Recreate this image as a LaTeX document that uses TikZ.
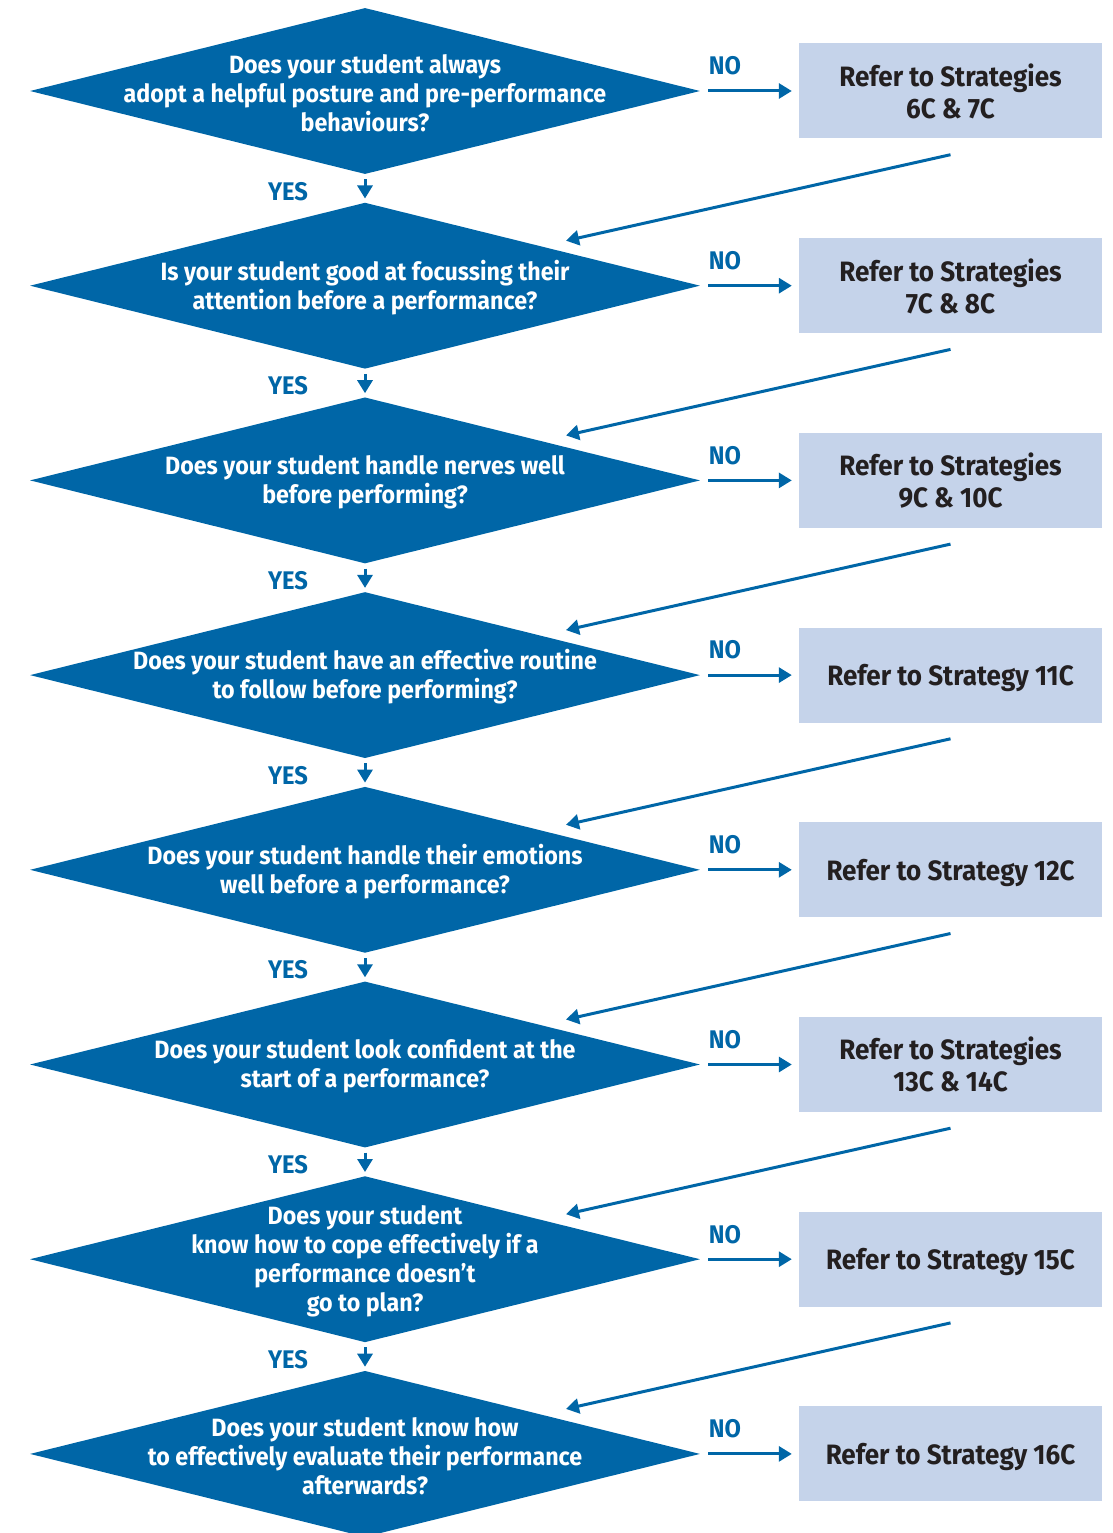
\documentclass[tikz,border=0pt]{standalone}
\usepackage{fontspec}
\setmainfont{Fira Sans}[FakeStretch=0.93]
\usetikzlibrary{shapes.geometric,arrows.meta,calc}
\definecolor{dblue}{RGB}{0,102,167}
\definecolor{lblue}{RGB}{197,211,234}
\definecolor{ink}{RGB}{35,31,32}
\begin{document}
\begin{tikzpicture}[x=1pt,y=-1pt,
 dia/.style={diamond, fill=dblue, minimum width=670pt, minimum height=166pt, inner sep=0pt},
 qtext/.style={text=white, font=\bfseries\fontsize{25}{29}\selectfont, align=center, inner sep=0pt, yshift=-2pt},
 box/.style={fill=lblue, minimum width=303pt, minimum height=95pt, text=ink, font=\bfseries\fontsize{28}{32}\selectfont, align=center, text depth=0pt},
 lab/.style={text=dblue, font=\bfseries\fontsize{25.5}{28}\selectfont, inner sep=0pt},
 arr/.style={draw=dblue, line width=3pt, -{Triangle[length=13pt,width=15pt]}},
]
\clip (0,0) rectangle (1112,1533);
\foreach \i/\q/\b in {
 1/{Does your student always\\adopt a helpful posture and pre-performance\\behaviours?}/{Refer to Strategies\\6C \& 7C},
 2/{Is your student good at focussing their\\attention before a performance?}/{Refer to Strategies\\7C \& 8C},
 3/{Does your student handle nerves well\\before performing?}/{Refer to Strategies\\9C \& 10C},
 4/{Does your student have an effective routine\\to follow before performing?}/{Refer to Strategy 11C},
 5/{Does your student handle their emotions\\well before a performance?}/{Refer to Strategy 12C},
 6/{Does your student look confident at the\\start of a performance?}/{Refer to Strategies\\13C \& 14C},
 7/{Does your student\\know how to cope effectively if a\\performance doesn’t\\go to plan?}/{Refer to Strategy 15C},
 8/{Does your student know how\\to effectively evaluate their performance\\afterwards?}/{Refer to Strategy 16C}}{
  \pgfmathsetmacro{\yc}{91+(\i-1)*194.7}
  \node[dia] (q\i) at (365,\yc) {};
  \node[qtext] (qt\i) at (q\i.center) {\q};
  \node[box] (b\i) at (950.5,\yc) {\b};
  \node[lab] (n\i) at (725,\yc-25) {NO};
  \draw[arr] ([xshift=8pt]q\i.east) -- ([xshift=-7pt]b\i.west);
}
\foreach \i in {1,...,7}{
  \pgfmathtruncatemacro{\j}{\i+1}
  \node[lab] (y\i) at ($(q\i.south)+(-77,17)$) {YES};
  \draw[arr] ([yshift=-5pt]q\i.south) -- ([yshift=4pt]q\j.north);
  \coordinate (r\i) at ($(q\j.center)+(201,-45)$);
  \draw[arr] ([yshift=-16pt]b\i.south) -- (r\i);
}
\end{tikzpicture}
\end{document}
